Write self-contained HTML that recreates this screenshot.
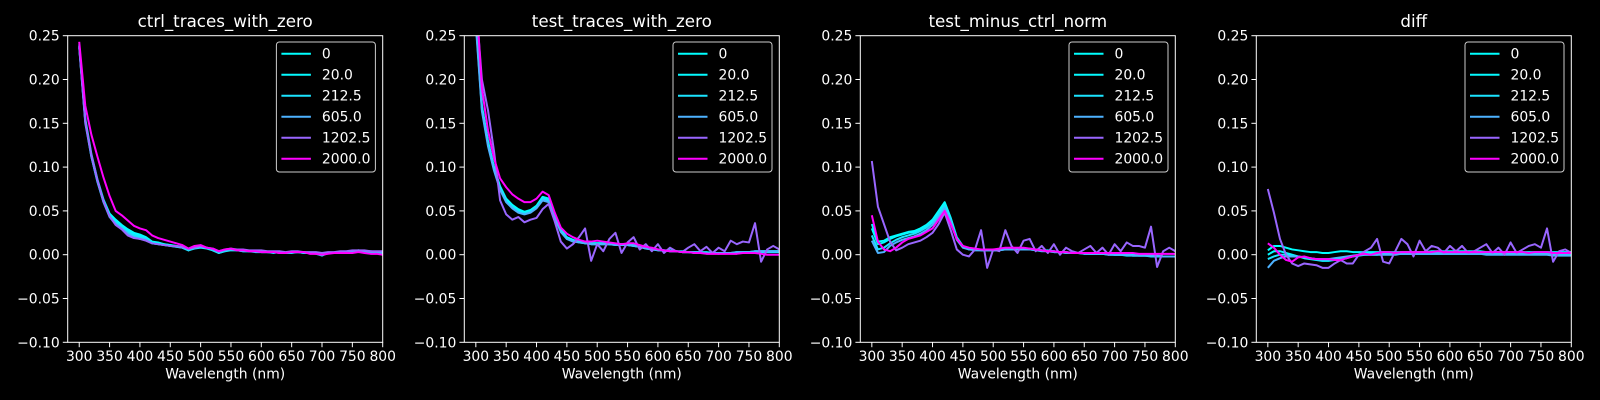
<!DOCTYPE html>
<html><head><meta charset="utf-8"><style>
html,body{margin:0;padding:0;background:#000;}
svg{display:block;}
text{font-family:"DejaVu Sans","Liberation Sans",sans-serif;fill:#fff;}
</style></head>
<body>
<svg id="fig" width="1600" height="400" viewBox="0 0 1600 400" xmlns="http://www.w3.org/2000/svg">
<rect x="0" y="0" width="1600" height="400" fill="#000"/>
</svg>
<script>
const wavelengths = [300,310,320,330,340,350,360,370,380,390,400,410,420,430,440,450,460,470,480,490,500,510,520,530,540,550,560,570,580,590,600,610,620,630,640,650,660,670,680,690,700,710,720,730,740,750,760,770,780,790,800];
const seriesLabels = ["0","20.0","212.5","605.0","1202.5","2000.0"];
const seriesColors = ["#00ffff","#05faff","#1be4ff","#4db2ff","#9966ff","#ff00ff"];
const panelTitles = ["ctrl_traces_with_zero","test_traces_with_zero","test_minus_ctrl_norm","diff"];
const xTicks = [300,350,400,450,500,550,600,650,700,750,800];
const yTicks = [-0.10,-0.05,0.00,0.05,0.10,0.15,0.20,0.25];
const yTickLabels = ["\u22120.10","\u22120.05","0.00","0.05","0.10","0.15","0.20","0.25"];

const ctrl_0 = [0.240,0.155,0.115,0.086,0.063,0.047,0.040,0.034,0.029,0.025,0.023,0.020,0.015,0.014,0.012,0.011,0.010,0.009,0.005,0.008,0.009,0.008,0.006,0.002,0.005,0.006,0.005,0.005,0.004,0.004,0.004,0.003,0.003,0.003,0.002,0.003,0.003,0.003,0.002,0.002,0.000,0.002,0.002,0.003,0.003,0.004,0.005,0.004,0.003,0.003,0.003];
const ctrl_20 = [0.238,0.153,0.113,0.084,0.061,0.045,0.038,0.032,0.027,0.024,0.022,0.019,0.014,0.013,0.012,0.011,0.010,0.008,0.005,0.008,0.009,0.008,0.005,0.002,0.004,0.006,0.005,0.004,0.004,0.003,0.003,0.003,0.002,0.003,0.002,0.002,0.003,0.002,0.002,0.001,-0.001,0.002,0.002,0.002,0.003,0.004,0.004,0.004,0.003,0.003,0.002];
const ctrl_212 = [0.237,0.152,0.112,0.083,0.060,0.044,0.037,0.031,0.026,0.022,0.020,0.018,0.013,0.012,0.011,0.010,0.009,0.008,0.005,0.007,0.008,0.007,0.005,0.002,0.004,0.005,0.005,0.004,0.004,0.004,0.003,0.003,0.003,0.002,0.002,0.003,0.003,0.002,0.002,0.002,0.000,0.002,0.002,0.003,0.003,0.004,0.004,0.004,0.003,0.003,0.003];
const ctrl_605 = [0.236,0.150,0.112,0.084,0.060,0.043,0.035,0.030,0.024,0.020,0.018,0.017,0.013,0.012,0.011,0.010,0.009,0.008,0.006,0.008,0.009,0.008,0.006,0.003,0.005,0.006,0.005,0.005,0.004,0.004,0.004,0.003,0.003,0.003,0.002,0.003,0.003,0.003,0.002,0.002,0.001,0.002,0.002,0.003,0.003,0.004,0.005,0.004,0.004,0.003,0.003];
const ctrl_1202 = [0.238,0.152,0.114,0.085,0.061,0.044,0.034,0.029,0.022,0.019,0.018,0.016,0.013,0.012,0.011,0.010,0.010,0.009,0.007,0.008,0.010,0.008,0.007,0.004,0.006,0.007,0.006,0.006,0.005,0.005,0.005,0.004,0.004,0.004,0.003,0.004,0.004,0.003,0.003,0.003,0.002,0.003,0.003,0.004,0.004,0.005,0.005,0.005,0.004,0.004,0.004];
const ctrl_2000 = [0.243,0.170,0.137,0.112,0.088,0.067,0.050,0.045,0.039,0.033,0.030,0.028,0.022,0.019,0.017,0.015,0.013,0.011,0.007,0.010,0.011,0.008,0.007,0.004,0.006,0.007,0.005,0.005,0.004,0.004,0.003,0.003,0.003,0.002,0.002,0.003,0.003,0.003,0.001,0.001,0.000,0.001,0.002,0.002,0.002,0.002,0.003,0.002,0.001,0.001,0.000];

const test_0 = [0.270,0.170,0.130,0.100,0.078,0.064,0.057,0.052,0.049,0.051,0.056,0.066,0.064,0.045,0.029,0.020,0.017,0.015,0.014,0.013,0.013,0.013,0.013,0.012,0.012,0.012,0.011,0.010,0.008,0.007,0.006,0.005,0.005,0.004,0.004,0.003,0.003,0.003,0.003,0.002,0.002,0.002,0.002,0.003,0.003,0.003,0.004,0.004,0.004,0.004,0.004];
const test_20 = [0.268,0.168,0.128,0.098,0.076,0.062,0.055,0.050,0.048,0.050,0.055,0.065,0.063,0.044,0.028,0.019,0.016,0.015,0.013,0.013,0.013,0.013,0.012,0.012,0.012,0.011,0.010,0.009,0.008,0.007,0.006,0.005,0.004,0.004,0.003,0.003,0.003,0.002,0.002,0.002,0.002,0.002,0.002,0.002,0.003,0.003,0.003,0.004,0.004,0.004,0.004];
const test_212 = [0.266,0.166,0.126,0.097,0.075,0.061,0.054,0.049,0.047,0.049,0.054,0.064,0.062,0.043,0.027,0.018,0.016,0.014,0.013,0.012,0.012,0.012,0.012,0.011,0.011,0.011,0.010,0.009,0.007,0.006,0.005,0.005,0.004,0.004,0.003,0.003,0.002,0.002,0.002,0.002,0.001,0.002,0.002,0.002,0.002,0.003,0.003,0.003,0.003,0.003,0.003];
const test_605 = [0.262,0.164,0.124,0.096,0.074,0.060,0.053,0.048,0.046,0.048,0.053,0.062,0.060,0.042,0.026,0.018,0.015,0.014,0.013,0.012,0.012,0.012,0.012,0.011,0.011,0.011,0.010,0.009,0.007,0.006,0.005,0.005,0.004,0.004,0.003,0.003,0.003,0.003,0.002,0.002,0.002,0.002,0.002,0.003,0.003,0.003,0.004,0.004,0.004,0.004,0.004];
const test_1202 = [0.290,0.200,0.165,0.118,0.062,0.046,0.040,0.043,0.037,0.040,0.042,0.052,0.058,0.038,0.015,0.007,0.012,0.020,0.030,-0.007,0.012,0.004,0.018,0.025,0.002,0.014,0.020,0.006,0.012,0.004,0.012,0.002,0.008,0.004,0.003,0.008,0.012,0.004,0.009,0.002,0.008,0.004,0.016,0.012,0.015,0.014,0.036,-0.008,0.006,0.010,0.006];
const test_2000 = [0.300,0.190,0.142,0.110,0.087,0.077,0.069,0.064,0.060,0.060,0.064,0.072,0.068,0.048,0.031,0.024,0.020,0.017,0.015,0.015,0.016,0.015,0.014,0.013,0.012,0.013,0.013,0.011,0.009,0.008,0.006,0.005,0.004,0.004,0.003,0.003,0.002,0.002,0.001,0.001,0.001,0.001,0.001,0.001,0.002,0.002,0.002,0.001,0.000,0.000,0.000];

const norm_0 = [0.035,0.015,0.016,0.020,0.022,0.024,0.026,0.027,0.030,0.034,0.040,0.050,0.060,0.042,0.020,0.010,0.007,0.006,0.006,0.006,0.006,0.006,0.007,0.007,0.007,0.007,0.007,0.006,0.005,0.005,0.004,0.003,0.003,0.002,0.002,0.002,0.002,0.001,0.001,0.001,0.000,0.000,0.000,0.000,-0.001,-0.001,-0.001,-0.001,-0.002,-0.002,-0.002];
const norm_20 = [0.030,0.012,0.014,0.018,0.021,0.023,0.025,0.026,0.029,0.033,0.039,0.048,0.058,0.041,0.019,0.009,0.007,0.006,0.006,0.006,0.006,0.006,0.006,0.007,0.007,0.007,0.006,0.006,0.005,0.004,0.004,0.003,0.003,0.002,0.002,0.002,0.001,0.001,0.001,0.001,0.000,0.000,0.000,-0.001,-0.001,-0.001,-0.001,-0.002,-0.002,-0.002,-0.002];
const norm_212 = [0.022,0.006,0.008,0.013,0.017,0.020,0.022,0.024,0.027,0.031,0.037,0.046,0.056,0.040,0.018,0.009,0.006,0.006,0.005,0.005,0.005,0.005,0.006,0.006,0.006,0.006,0.006,0.005,0.005,0.004,0.003,0.003,0.002,0.002,0.002,0.001,0.001,0.001,0.001,0.000,0.000,0.000,-0.001,-0.001,-0.001,-0.001,-0.002,-0.002,-0.002,-0.002,-0.002];
const norm_605 = [0.016,0.002,0.003,0.010,0.014,0.017,0.019,0.021,0.024,0.028,0.034,0.043,0.053,0.038,0.017,0.008,0.006,0.005,0.005,0.005,0.005,0.005,0.006,0.006,0.006,0.006,0.006,0.005,0.004,0.004,0.003,0.003,0.002,0.002,0.002,0.001,0.001,0.001,0.001,0.000,0.000,0.000,0.000,-0.001,-0.001,-0.001,-0.001,-0.001,-0.002,-0.002,-0.002];
const norm_1202 = [0.107,0.055,0.035,0.015,0.005,0.008,0.012,0.014,0.016,0.020,0.025,0.035,0.048,0.028,0.006,0.000,-0.002,0.006,0.028,-0.015,0.006,0.004,0.028,0.010,0.002,0.016,0.018,0.004,0.010,0.002,0.012,0.000,0.008,0.004,0.002,0.006,0.010,0.002,0.008,0.000,0.012,0.004,0.014,0.010,0.010,0.008,0.032,-0.014,0.004,0.008,0.004];
const norm_2000 = [0.045,0.015,0.006,0.004,0.008,0.014,0.018,0.020,0.022,0.026,0.030,0.040,0.050,0.035,0.018,0.010,0.008,0.007,0.006,0.006,0.006,0.007,0.008,0.008,0.008,0.008,0.007,0.006,0.005,0.004,0.004,0.003,0.003,0.002,0.002,0.002,0.002,0.002,0.002,0.002,0.002,0.002,0.002,0.002,0.001,0.001,0.001,0.001,0.001,0.001,0.001];

const diff_0 = [0.005,0.010,0.010,0.008,0.006,0.005,0.004,0.003,0.003,0.002,0.002,0.003,0.004,0.004,0.003,0.003,0.003,0.003,0.003,0.003,0.003,0.003,0.003,0.003,0.003,0.003,0.003,0.004,0.004,0.004,0.004,0.004,0.004,0.004,0.004,0.004,0.003,0.003,0.003,0.003,0.003,0.003,0.003,0.003,0.003,0.003,0.003,0.003,0.003,0.003,0.003];
const diff_20 = [0.000,0.004,0.004,0.002,0.000,-0.002,-0.004,-0.005,-0.006,-0.007,-0.007,-0.006,-0.005,-0.004,-0.002,0.000,0.001,0.001,0.002,0.002,0.002,0.002,0.002,0.002,0.002,0.002,0.002,0.002,0.002,0.002,0.002,0.002,0.002,0.002,0.002,0.002,0.002,0.002,0.002,0.002,0.002,0.002,0.002,0.002,0.002,0.002,0.002,0.002,0.002,0.002,0.002];
const diff_212 = [-0.005,-0.002,0.000,0.000,-0.001,-0.002,-0.003,-0.004,-0.005,-0.006,-0.006,-0.005,-0.004,-0.003,-0.002,-0.001,0.000,0.000,0.000,0.001,0.001,0.001,0.001,0.001,0.001,0.001,0.001,0.001,0.001,0.001,0.001,0.001,0.001,0.001,0.001,0.001,0.001,0.001,0.001,0.001,0.001,0.001,0.001,0.001,0.001,0.001,0.001,0.001,0.001,0.001,0.001];
const diff_605 = [-0.015,-0.007,-0.004,-0.002,-0.002,-0.002,-0.003,-0.004,-0.005,-0.005,-0.005,-0.004,-0.003,-0.002,-0.001,0.000,0.000,0.000,0.000,0.000,0.000,0.000,0.001,0.001,0.001,0.001,0.001,0.001,0.001,0.001,0.001,0.001,0.001,0.001,0.001,0.001,0.000,0.000,0.000,0.000,0.000,0.000,0.000,0.000,0.000,0.000,0.000,-0.001,-0.001,-0.001,-0.001];
const diff_1202 = [0.075,0.048,0.018,0.000,-0.010,-0.013,-0.010,-0.011,-0.012,-0.015,-0.015,-0.010,-0.006,-0.010,-0.010,0.000,0.004,0.008,0.018,-0.008,-0.010,0.004,0.018,0.012,-0.002,0.016,0.004,0.010,0.008,0.002,0.010,0.004,0.010,0.002,0.004,0.008,0.012,0.002,0.008,0.000,0.014,0.002,0.006,0.010,0.012,0.008,0.030,-0.008,0.004,0.006,0.002];
const diff_2000 = [0.013,0.008,0.000,-0.006,-0.008,-0.003,-0.002,-0.004,-0.005,-0.005,-0.005,-0.006,-0.006,-0.004,-0.002,0.000,0.001,0.000,0.002,0.003,0.003,0.002,0.003,0.003,0.003,0.003,0.003,0.003,0.004,0.003,0.003,0.003,0.003,0.003,0.003,0.003,0.003,0.003,0.003,0.003,0.003,0.003,0.003,0.002,0.003,0.003,0.003,0.002,0.002,0.002,0.002];

const panelSeries = [
  [ctrl_0,ctrl_20,ctrl_212,ctrl_605,ctrl_1202,ctrl_2000],
  [test_0,test_20,test_212,test_605,test_1202,test_2000],
  [norm_0,norm_20,norm_212,norm_605,norm_1202,norm_2000],
  [diff_0,diff_20,diff_212,diff_605,diff_1202,diff_2000]
];

const NS = "http://www.w3.org/2000/svg";
const svg = document.getElementById('fig');
const AX_LEFTS = [67.7, 464.3, 860.3, 1256.3];
const AX_W = 315, AX_TOP = 35.7, AX_BOT = 342.3;
const XMIN = 281, XMAX = 800, YMIN = -0.10, YMAX = 0.25;

function mk(tag, attrs, parent){
  const e = document.createElementNS(NS, tag);
  for (const k in attrs) e.setAttribute(k, attrs[k]);
  (parent||svg).appendChild(e);
  return e;
}

panelTitles.forEach((title, p) => {
  const L = AX_LEFTS[p], R = L + AX_W;
  const xs = v => L + (v - XMIN) / (XMAX - XMIN) * AX_W;
  const ys = v => AX_BOT - (v - YMIN) / (YMAX - YMIN) * (AX_BOT - AX_TOP);
  const g = mk('g', {});
  
  

  const cp = mk('clipPath', {id: 'clip' + p}, g);
  mk('rect', {x: L, y: AX_TOP, width: AX_W, height: AX_BOT - AX_TOP}, cp);

  const lines = mk('g', {'clip-path': 'url(#clip' + p + ')'}, g);
  
  
  panelSeries[p].forEach((vals, s) => {
    const pts = vals.map((v, i) => xs(wavelengths[i]).toFixed(2) + ',' + ys(v).toFixed(2)).join(' ');
    const pl = mk('polyline', {points: pts, fill: 'none', stroke: seriesColors[s], 'stroke-width': 2, 'stroke-linejoin': 'round'}, lines);
    
    
  });

  const fr = mk('rect', {x: L, y: AX_TOP, width: AX_W, height: AX_BOT - AX_TOP, fill: 'none', stroke: '#fff', 'stroke-width': 1}, g);
  
  

  xTicks.forEach(t => {
    const x = xs(t);
    mk('line', {x1: x, y1: AX_BOT, x2: x, y2: AX_BOT + 4.9, stroke: '#fff', 'stroke-width': 1}, g);
    const tx = mk('text', {x: x, y: AX_BOT + 18.5, 'text-anchor': 'middle', 'font-size': 13.9}, g);
    tx.textContent = t;
    
    
  });
  yTicks.forEach((t, i) => {
    const y = ys(t);
    mk('line', {x1: L, y1: y, x2: L - 4.9, y2: y, stroke: '#fff', 'stroke-width': 1}, g);
    const ty = mk('text', {x: L - 8, y: y + 5, 'text-anchor': 'end', 'font-size': 13.9}, g);
    ty.textContent = yTickLabels[i];
    
    
  });
  const tt = mk('text', {x: L + AX_W / 2, y: 27, 'text-anchor': 'middle', 'font-size': 16.7}, g);
  tt.textContent = title;
  
  
  const xl = mk('text', {x: L + AX_W / 2, y: AX_BOT + 36, 'text-anchor': 'middle', 'font-size': 13.9}, g);
  xl.textContent = 'Wavelength (nm)';
  
  

  const lg = mk('g', {}, g);
  
  
  const lx = R - 106.3, ly = 42;
  mk('rect', {x: lx, y: ly, width: 99, height: 130, rx: 3, fill: '#000', stroke: '#cccccc', 'stroke-width': 1}, lg);
  seriesLabels.forEach((lab, s) => {
    const yy = ly + 11.7 + 21 * s;
    const e = mk('g', {}, lg);
    
    
    mk('line', {x1: lx + 5, y1: yy, x2: lx + 34.5, y2: yy, stroke: seriesColors[s], 'stroke-width': 2}, e);
    const lt = mk('text', {x: lx + 45.5, y: yy + 5, 'font-size': 13.9}, e);
    lt.textContent = lab;
  });
});
</script>
</body></html>
